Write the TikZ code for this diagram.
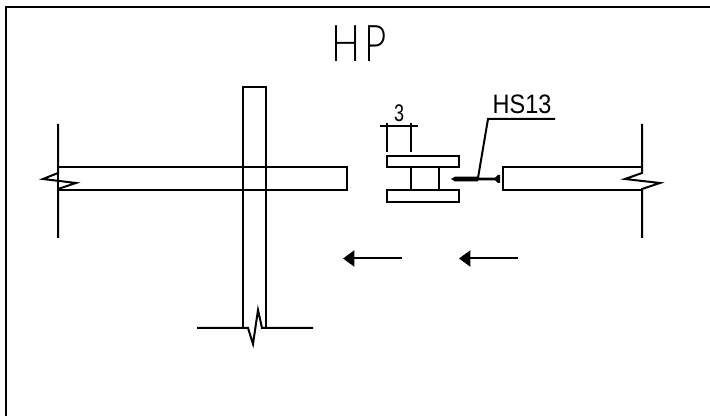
\documentclass[tikz,border=0pt]{standalone}
\usepackage{fontspec}
\setmainfont{Liberation Sans}
\newfontfamily\titlefont{Lato Light}
\usetikzlibrary{arrows.meta}
\tikzset{
x=0.75pt,y=-0.75pt,
wall/.style={line width=1.5pt,line join=miter},
thin line/.style={line width=1.5pt},
move/.style={line width=1.5pt,-{Triangle[length=8.5pt,width=12pt]}},
}
\begin{document}
\begin{tikzpicture}
\useasboundingbox (0,0) rectangle (710,416);
\coordinate (f1) at (5.5,416);
\coordinate (f2) at (5.5,7.3);
\coordinate (f3) at (710,7.3);
\draw [wall] (f1) -- (f2) -- (f3);
\node [xscale=0.76,transform shape] (title) at (359,44) {\titlefont\fontsize{38pt}{38pt}\selectfont H\kern 4pt P};
% left beam
\draw [thin line] (58,167) rectangle (347,190);
\draw [wall] (58,124) -- (58,173) -- (43,179) -- (76,183) -- (58,189) -- (58,238);
% column
\draw [thin line] (266,328) -- (266,87) -- (243,87) -- (243,328);
\draw [wall] (197,328) -- (248,328) -- (253,344) -- (258,310) -- (262,328) -- (313,328);
% right beam
\draw [thin line] (642,167) -- (503,167) -- (503,190) -- (642,190);
\draw [wall] (642,124) -- (642,173) -- (625,179) -- (660,183) -- (642,189) -- (642,238);
% section
\draw [thin line] (387,156) rectangle (459,167.5);
\draw [thin line] (387,190) rectangle (459,202.5);
\draw [thin line] (411,167.5) rectangle (438.5,190);
% dimension
\draw [thin line] (387,123) -- (387,152.5);
\draw [thin line] (411,123) -- (411,152.5);
\draw [thin line] (380,126) -- (418,126);
\node [xscale=0.75,transform shape] (dim) at (399,113) {\fontsize{18pt}{18pt}\selectfont 3};
% screw and leader
\fill (451,179) -- (455,176.7) -- (478,176.7) -- (478,177.7) -- (495,177.7) -- (498,175) -- (500,175)
-- (500,183) -- (498,183) -- (495,180.3) -- (478,180.3) -- (478,181.5) -- (455,181.5) -- cycle;
\node [xscale=0.88,transform shape] (hs) at (522,104.5) {\fontsize{20pt}{20pt}\selectfont HS13};
\coordinate (l1) at (555,119);
\coordinate (l2) at (488,119);
\coordinate (l3) at (478,178);
\draw [thin line] (l1) -- (l2) -- (l3);
% arrows
\coordinate (a1) at (402,258.5);
\coordinate (a2) at (343,258.5);
\coordinate (a3) at (518,258.5);
\coordinate (a4) at (459,258.5);
\draw [move] (a1) -- (a2);
\draw [move] (a3) -- (a4);
\end{tikzpicture}
\end{document}
